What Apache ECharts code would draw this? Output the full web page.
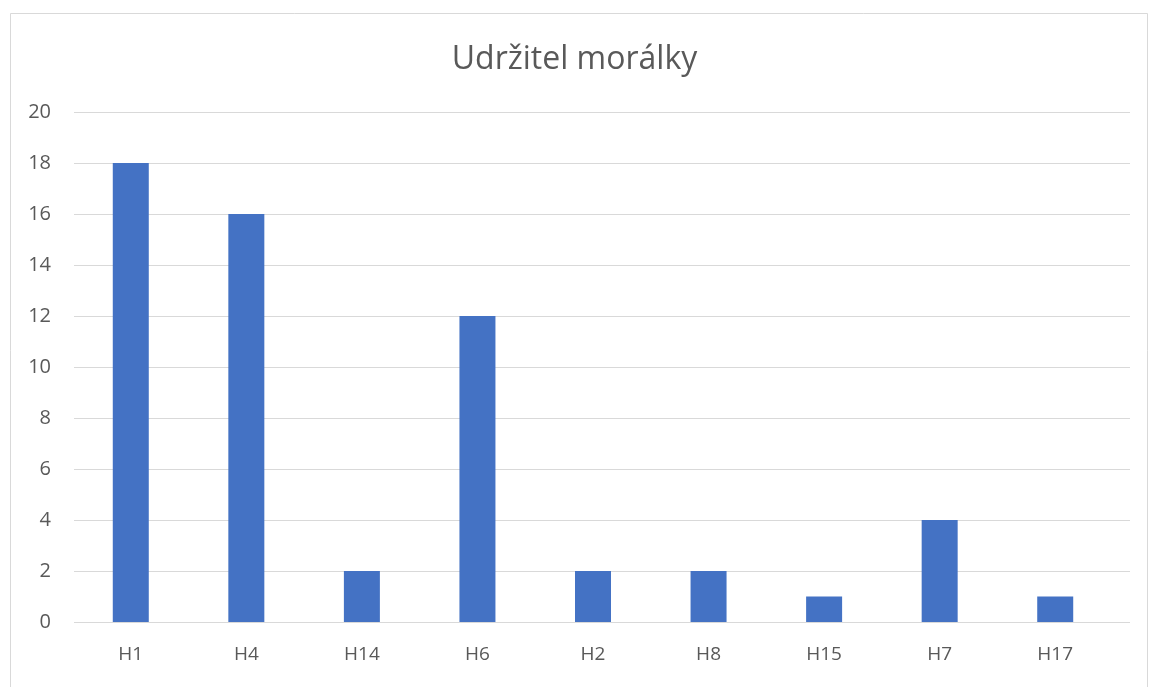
<!DOCTYPE html>
<html>
<head>
<meta charset="utf-8">
<script src="https://cdn.jsdelivr.net/npm/echarts@6/dist/echarts.min.js"></script>
<style>
  html, body { margin: 0; padding: 0; background: #fff; }
  #chart { width: 1149px; height: 687px; }
</style>
</head>
<body>
<div id="chart"></div>
<script>
let categories = ['H1', 'H4', 'H14', 'H6', 'H2', 'H8', 'H15', 'H7', 'H17']
let values = [18, 16, 2, 12, 2, 2, 1, 4, 1]
let titleText = 'Udržitel morálky'

let oChart = echarts.init(document.getElementById('chart'))

// grid 0 carries the gridlines and y labels, grid 1 the bars and categories
let option = {
  animation: false,
  backgroundColor: '#fff',
  textStyle: { fontFamily: 'Open Sans' },
  title: {
    text: titleText,
    left: 'center',
    top: 39,
    textStyle: { fontSize: 32, fontWeight: 'normal', color: '#595959', fontFamily: 'Open Sans' }
  },
  graphic: [{
    type: 'rect',
    shape: { x: 10.5, y: 13.5, width: 1137, height: 700 },
    style: { fill: 'none', stroke: '#d9d9d9', lineWidth: 1 },
    silent: true
  }],
  grid: [
    { left: 74, right: 19, top: 112, bottom: 65 },
    { left: 73, right: 36, top: 112, bottom: 65 }
  ],
  xAxis: [{
    type: 'value',
    gridIndex: 0,
    min: 0,
    max: 1,
    show: true,
    axisLine: { show: false },
    axisTick: { show: false },
    axisLabel: { show: false },
    splitLine: { show: false }
  }, {
    type: 'category',
    gridIndex: 1,
    data: categories,
    axisLine: { show: false },
    axisTick: { show: false },
    axisLabel: { color: '#595959', fontSize: 19, margin: 23 }
  }],
  yAxis: [{
    type: 'value',
    gridIndex: 0,
    min: 0,
    max: 20,
    interval: 2,
    axisLine: { show: false },
    axisTick: { show: false },
    axisLabel: { color: '#595959', fontSize: 20, margin: 23 },
    splitLine: { lineStyle: { color: '#d9d9d9', width: 1 } }
  }, {
    type: 'value',
    gridIndex: 1,
    min: 0,
    max: 20,
    interval: 2,
    show: false,
    splitLine: { show: false }
  }],
  series: [{
    type: 'bar',
    xAxisIndex: 1,
    yAxisIndex: 1,
    data: values,
    barWidth: 36,
    itemStyle: { color: '#4472C4' }
  }]
}

oChart.setOption(option)
</script>
</body>
</html>
